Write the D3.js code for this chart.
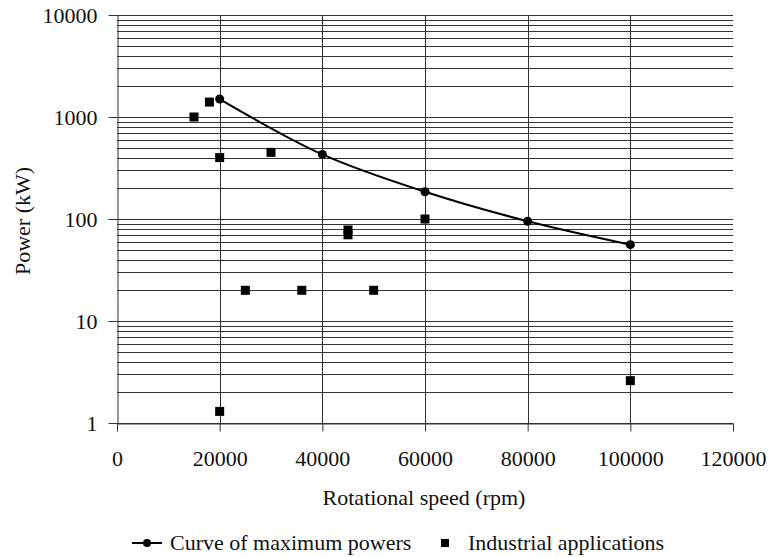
<!DOCTYPE html>
<html>
  <head>
    <meta charset="UTF-8">
    <script src="https://d3js.org/d3.v7.min.js"></script>
    <style>
      body {
        margin: 0;
        background: #fff;
      }
    </style>
  </head>
  <body>
    <script>
      // curve of maximum powers
      const curveSpeed = [20000, 40000, 60000, 80000, 100000];
      const curvePower = [1500, 430, 185, 95, 56];

      // industrial applications
      const appSpeed = [15000, 18000, 20000, 30000, 45000, 45000, 25000, 36000, 50000, 60000, 20000, 100000];
      const appPower = [1000, 1400, 400, 450, 78, 70, 20, 20, 20, 100, 1.3, 2.6];

      const xTicks = [0, 20000, 40000, 60000, 80000, 100000, 120000];
      const yTicks = [1, 10, 100, 1000, 10000];

      const fontFam = '"Liberation Serif", serif';
      const fontSize = '22px';

      const svgWidth = 768;
      const svgHeight = 557;
      const margin = { top: 15, right: 35, bottom: 134, left: 117 };
      const width = svgWidth - margin.left - margin.right;
      const height = svgHeight - margin.top - margin.bottom;

      const svg = d3
        .select('body')
        .append('svg')
        .attr('width', svgWidth)
        .attr('height', svgHeight);

      const g = svg
        .append('g')
        .attr('transform', `translate(${margin.left},${margin.top})`);

      const x = d3.scaleLinear().domain([0, 120000]).range([0, width]);
      const y = d3.scaleLog().domain([1, 10000]).range([height, 0]);

      // horizontal grid (every minor log step)
      g.append('g')
        .selectAll('line')
        .data(y.ticks())
        .enter()
        .append('line')
        .attr('x1', 0)
        .attr('x2', width)
        .attr('y1', (d) => Math.round(y(d)) + 0.5)
        .attr('y2', (d) => Math.round(y(d)) + 0.5)
        .attr('stroke', '#333')
        .attr('stroke-width', 1);

      // vertical grid
      g.append('g')
        .selectAll('line')
        .data(xTicks.slice(1, -1))
        .enter()
        .append('line')
        .attr('x1', (d) => Math.round(x(d)) + 0.5)
        .attr('x2', (d) => Math.round(x(d)) + 0.5)
        .attr('y1', 0)
        .attr('y2', height)
        .attr('stroke', '#333');

      // x axis
      const xAxis = g
        .append('g')
        .attr('transform', `translate(0,${Math.round(height) + 0.5})`)
        .call(
          d3
            .axisBottom(x)
            .tickValues(xTicks)
            .tickFormat(d3.format('d'))
            .tickSize(8)
            .tickSizeOuter(0)
            .tickPadding(19),
        );
      xAxis.attr('font-family', null);
      xAxis.select('.domain').attr('stroke', '#333');
      xAxis.selectAll('.tick line').attr('stroke', '#333');
      xAxis
        .selectAll('.tick text')
        .style('font-family', fontFam)
        .style('font-size', fontSize)
        .attr('fill', '#111');

      // y axis
      const yAxis = g
        .append('g')
        .attr('transform', 'translate(0.5,0)')
        .call(
          d3
            .axisLeft(y)
            .tickValues(yTicks)
            .tickFormat(d3.format('d'))
            .tickSize(9)
            .tickSizeOuter(0)
            .tickPadding(11),
        );
      yAxis.attr('font-family', null);
      yAxis.select('.domain').attr('stroke', '#333');
      yAxis.selectAll('.tick line').attr('stroke', '#333');
      yAxis
        .selectAll('.tick text')
        .style('font-family', fontFam)
        .style('font-size', fontSize)
        .attr('fill', '#111');

      // curve
      const curveData = curveSpeed.map((s, i) => ({ s: s, p: curvePower[i] }));
      g.append('path')
        .datum(curveData)
        .attr('fill', 'none')
        .attr('stroke', '#000')
        .attr('stroke-width', 2)
        .attr(
          'd',
          d3
            .line()
            .x((d) => x(d.s))
            .y((d) => y(d.p))
            .curve(d3.curveCatmullRom.alpha(0.5)),
        );

      g.selectAll('circle.max')
        .data(curveData)
        .enter()
        .append('circle')
        .attr('class', 'max')
        .attr('cx', (d) => x(d.s))
        .attr('cy', (d) => y(d.p))
        .attr('r', 4.5)
        .attr('fill', '#000');

      // industrial squares
      const appData = appSpeed.map((s, i) => ({ s: s, p: appPower[i] }));
      g.selectAll('rect.app')
        .data(appData)
        .enter()
        .append('rect')
        .attr('class', 'app')
        .attr('x', (d) => x(d.s) - 4.5)
        .attr('y', (d) => y(d.p) - 4.5)
        .attr('width', 9)
        .attr('height', 9)
        .attr('fill', '#000');

      // axis titles
      svg
        .append('text')
        .attr('x', margin.left + width / 2 - 1)
        .attr('y', 505)
        .attr('text-anchor', 'middle')
        .style('font-family', fontFam)
        .style('font-size', fontSize)
        .attr('fill', '#111')
        .text('Rotational speed (rpm)');

      svg
        .append('text')
        .attr('transform', 'translate(30,221) rotate(-90)')
        .attr('text-anchor', 'middle')
        .style('font-family', fontFam)
        .style('font-size', fontSize)
        .attr('fill', '#111')
        .text('Power (kW)');

      // legend
      const legend = svg.append('g').attr('transform', 'translate(0,543)');
      legend
        .append('line')
        .attr('x1', 132)
        .attr('x2', 162)
        .attr('y1', 0)
        .attr('y2', 0)
        .attr('stroke', '#000')
        .attr('stroke-width', 2);
      legend.append('circle').attr('cx', 147).attr('cy', 0).attr('r', 4).attr('fill', '#000');
      legend
        .append('text')
        .attr('x', 170)
        .attr('y', 7)
        .style('font-family', fontFam)
        .style('font-size', fontSize)
        .attr('fill', '#111')
        .text('Curve of maximum powers');
      legend
        .append('rect')
        .attr('x', 441)
        .attr('y', -4)
        .attr('width', 8)
        .attr('height', 8)
        .attr('fill', '#000');
      legend
        .append('text')
        .attr('x', 468)
        .attr('y', 7)
        .style('font-family', fontFam)
        .style('font-size', fontSize)
        .attr('fill', '#111')
        .text('Industrial applications');
    </script>
  </body>
</html>
